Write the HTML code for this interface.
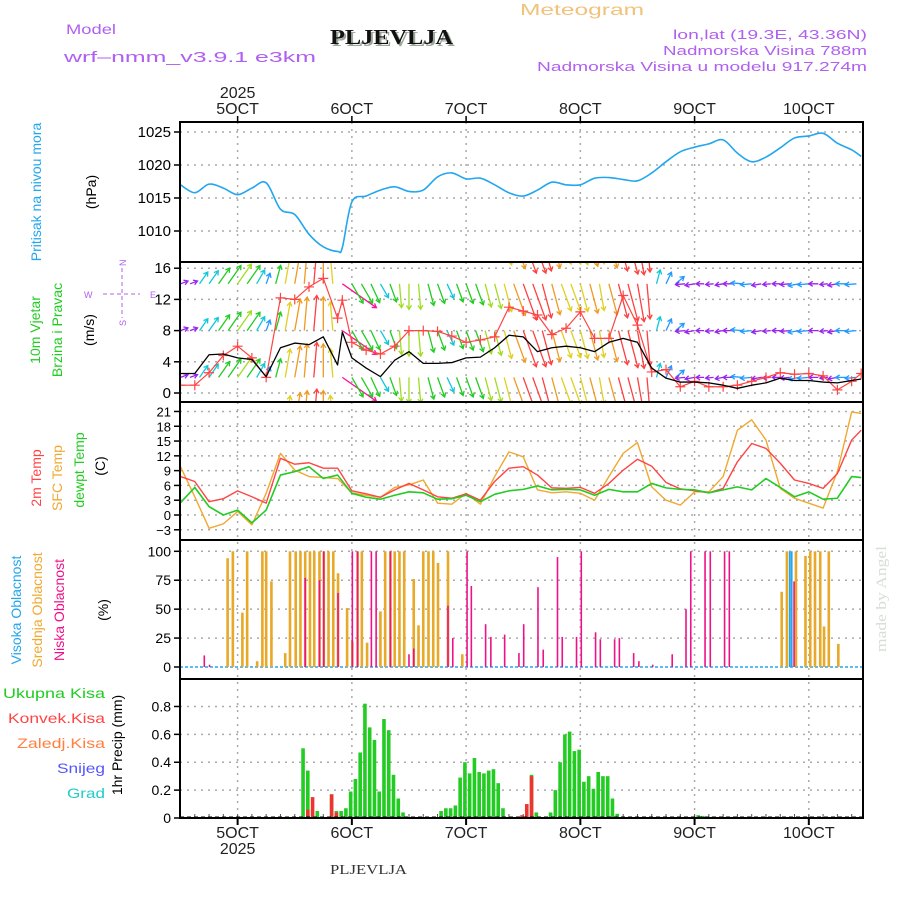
<!DOCTYPE html>
<html><head><meta charset="utf-8"><style>
html,body{margin:0;padding:0;background:#fff;}
svg{display:block;font-family:"Liberation Sans",sans-serif;}
</style></head><body>
<svg id="chart" width="900" height="900" viewBox="0 0 900 900" xmlns="http://www.w3.org/2000/svg">
<defs>
<clipPath id="cpW"><rect x="180" y="263" width="683" height="138"/></clipPath>
</defs>
<g>
<text x="66" y="34" fill="#b060f0" font-size="14" textLength="50" lengthAdjust="spacingAndGlyphs">Model</text>
<text x="64" y="62" fill="#b060f0" font-size="15" textLength="252" lengthAdjust="spacingAndGlyphs">wrf–nmm_v3.9.1  e3km</text>
<text x="332" y="46" fill="#9aa79a" font-family="Liberation Serif,serif" font-weight="bold" font-size="21" textLength="123" lengthAdjust="spacingAndGlyphs">PLJEVLJA</text>
<text x="330" y="44" fill="#111" font-family="Liberation Serif,serif" font-weight="bold" font-size="21" textLength="123" lengthAdjust="spacingAndGlyphs">PLJEVLJA</text>
<text x="520" y="15" fill="#f0c27a" font-size="16" textLength="124" lengthAdjust="spacingAndGlyphs">Meteogram</text>
<text x="867" y="39" text-anchor="end" fill="#b060f0" font-size="13" textLength="194" lengthAdjust="spacingAndGlyphs">lon,lat (19.3E, 43.36N)</text>
<text x="867" y="55" text-anchor="end" fill="#b060f0" font-size="13" textLength="204" lengthAdjust="spacingAndGlyphs">Nadmorska Visina 788m</text>
<text x="867" y="71" text-anchor="end" fill="#b060f0" font-size="13" textLength="330" lengthAdjust="spacingAndGlyphs">Nadmorska Visina u modelu 917.274m</text>
<text x="330" y="874" fill="#333" font-family="Liberation Serif,serif" font-size="14" textLength="77" lengthAdjust="spacingAndGlyphs">PLJEVLJA</text>
<text transform="translate(886,652) rotate(-90)" fill="#d4e0d4" font-family="Liberation Serif,serif" font-size="15" textLength="106" lengthAdjust="spacingAndGlyphs">made by Angel</text>
</g>
<g font-size="14">
<text transform="translate(41,192) rotate(-90)" text-anchor="middle" fill="#22a6ee">Pritisak na nivou mora</text>
<text transform="translate(96,192) rotate(-90)" text-anchor="middle" fill="#000">(hPa)</text>
<text transform="translate(40,330) rotate(-90)" text-anchor="middle" fill="#22cc22">10m Vjetar</text>
<text transform="translate(62,330) rotate(-90)" text-anchor="middle" fill="#22cc22">Brzina i Pravac</text>
<text transform="translate(94,330) rotate(-90)" text-anchor="middle" fill="#000">(m/s)</text>
<g fill="#b060f0" stroke="#b060f0" font-size="9">
<line x1="103" y1="294" x2="140" y2="294" stroke-dasharray="4,3"/>
<line x1="122" y1="268" x2="122" y2="318" stroke-dasharray="4,3"/>
<text x="84" y="298" stroke="none">W</text><text x="150" y="298" stroke="none">E</text>
<text transform="translate(126,266) rotate(-90)" stroke="none">N</text>
<text transform="translate(126,326) rotate(-90)" stroke="none">S</text>
</g>
<text transform="translate(41,478) rotate(-90)" text-anchor="middle" fill="#ff4444">2m Temp</text>
<text transform="translate(62,478) rotate(-90)" text-anchor="middle" fill="#f0a830">SFC Temp</text>
<text transform="translate(84,470) rotate(-90)" text-anchor="middle" fill="#22cc22">dewpt Temp</text>
<text transform="translate(105,466) rotate(-90)" text-anchor="middle" fill="#000">(C)</text>
<text transform="translate(21,610) rotate(-90)" text-anchor="middle" fill="#22a6ee">Visoka Oblacnost</text>
<text transform="translate(42,610) rotate(-90)" text-anchor="middle" fill="#f0a830">Srednja Oblacnost</text>
<text transform="translate(64,610) rotate(-90)" text-anchor="middle" fill="#ee1188">Niska Oblacnost</text>
<text transform="translate(108,610) rotate(-90)" text-anchor="middle" fill="#000">(%)</text>
<text x="105" y="698" text-anchor="end" fill="#22cc22" textLength="102" lengthAdjust="spacingAndGlyphs">Ukupna  Kisa</text>
<text x="105" y="723" text-anchor="end" fill="#ff4444" textLength="97" lengthAdjust="spacingAndGlyphs">Konvek.Kisa</text>
<text x="105" y="748" text-anchor="end" fill="#ff8040" textLength="88" lengthAdjust="spacingAndGlyphs">Zaledj.Kisa</text>
<text x="105" y="773" text-anchor="end" fill="#5555ff" textLength="48" lengthAdjust="spacingAndGlyphs">Snijeg</text>
<text x="105" y="798" text-anchor="end" fill="#22cccc" textLength="38" lengthAdjust="spacingAndGlyphs">Grad</text>
<text transform="translate(122,745) rotate(-90)" text-anchor="middle" fill="#000">1hr Precip (mm)</text>
</g>
<g id="plot"></g>
</svg>
<script>
const pHours = [0,3,6,9,12,15,18,21,24,27,30,33,34,36,39,42,45,48,51,54,57,60,63,66,69,72,75,78,81,84,87,90,93,96,99,102,105,108,111,114,117,120,123,126,129,132,135,138,141,143];
const pressure = [1017.0,1015.8,1017.1,1016.5,1015.5,1016.5,1017.3,1013.3,1012.5,1009.5,1007.6,1006.9,1007.5,1014.4,1015.3,1016.2,1016.7,1016.0,1016.2,1018.2,1018.8,1017.9,1018.0,1017.0,1015.8,1015.3,1016.2,1017.4,1017.0,1017.0,1018.0,1018.1,1017.8,1017.6,1018.8,1020.5,1022.0,1022.7,1023.2,1023.8,1021.8,1020.5,1021.2,1022.6,1024.1,1024.4,1024.8,1023.3,1022.3,1021.3];
const tHours = [0,3,6,9,12,15,18,21,24,27,30,33,36,39,42,45,48,51,54,57,60,63,66,69,72,75,78,81,84,87,90,93,96,99,102,105,108,111,114,117,120,123,126,129,132,135,138,141,143];
const temp2m = [7.8,6.8,2.7,3.3,4.9,3.7,2.4,11.5,10.3,10.6,9.5,9.5,4.9,4.3,3.6,5.1,6.4,5.1,3.7,3.4,4.3,3.0,6.8,9.5,9.8,8.1,5.5,5.4,5.6,4.4,6.4,9.1,11.3,9.9,6.6,5.3,4.9,4.5,5.4,10.8,14.5,13.5,10.5,7.1,6.4,5.4,8.4,15.2,17.2];
const tempSfc = [9.8,3.7,-2.7,-1.8,0.7,-2.0,4.4,12.5,9.1,7.8,7.6,7.4,4.5,4.0,3.6,5.6,6.1,7.1,2.4,2.2,4.4,2.2,7.8,12.8,11.8,5.1,4.5,4.7,4.4,3.0,7.8,12.5,14.7,5.7,3.0,2.0,4.7,4.7,7.8,17.2,19.3,15.2,5.4,3.4,2.4,1.4,8.8,20.9,20.6];
const dewpt = [2.5,5.6,1.7,0.0,1.0,-1.6,1.0,8.1,8.8,9.8,7.4,8.1,4.4,3.6,3.2,4.0,4.7,4.5,3.2,3.3,4.0,2.7,4.2,4.9,5.2,5.9,5.1,5.2,5.1,4.0,5.2,4.7,4.7,6.4,5.5,5.2,5.1,4.5,5.1,5.7,5.1,7.4,5.6,3.7,4.7,3.2,3.4,7.8,7.6];
const wsHours = [0,3,6,9,12,15,18,21,24,27,30,33,34,36,39,42,45,48,51,54,57,60,63,66,69,72,75,78,81,84,87,90,93,96,99,102,105,108,111,114,117,120,123,126,129,132,135,138,141,143];
const windSpeed = [2.5,2.5,4.9,5.0,4.5,4.3,2.1,5.8,6.4,6.2,7.2,3.6,7.8,4.5,3.2,2.1,4.2,5.3,3.8,3.8,3.9,4.5,4.6,5.8,7.4,7.2,5.3,5.8,6.0,5.8,5.3,6.5,7.0,6.5,3.2,1.9,1.4,1.4,1.3,1.0,0.6,1.0,1.3,1.9,1.6,1.6,1.4,1.3,1.6,1.8];
const gust = [1.0,1.0,2.6,4.8,6.0,4.5,2.0,12.2,12.0,13.6,14.7,9.6,11.9,6.5,5.5,5.0,6.0,8.0,8.0,7.9,7.3,6.5,6.8,7.2,11.0,10.5,10.0,7.5,8.3,10.4,7.0,7.0,12.5,8.7,2.7,3.0,0.8,1.5,0.8,0.8,1.0,1.5,2.0,2.6,2.4,2.5,2.2,0.4,1.5,2.5];
const arrowHours = [0,2,4,6,8,10,12,14,16,18,20,22,24,26,28,30,32,34,36,38,40,42,44,46,48,50,52,54,56,58,60,62,64,66,68,70,72,74,76,78,80,82,84,86,88,90,92,94,96,98,100,102,104,106,108,110,112,114,116,118,120,122,124,126,128,130,132,134,136,138,140,142];
const arrowSpeed = [2.5,2.5,4.5,5,6,7,7.5,7,5,3.5,6,9,10,10.5,11,10.5,9,13,7,7,6.5,5,6,7.5,8,8,7,6.5,5,6,6.5,7,7.5,8,9,10.5,12,12,11,10,9,9,9,9.5,8.5,10,11,12,12,11,4.5,4,3.5,3,3,2.5,2.5,2.5,3,3.5,3.5,3,2.5,2.5,3,3.5,3.5,3,2.5,3,3.5,3.5];
const arrowDir = [250,250,215,215,215,215,215,215,210,200,195,190,190,185,185,180,175,305,330,330,335,330,340,355,0,355,345,340,335,340,340,340,345,345,345,340,340,340,345,345,340,340,345,345,350,345,345,345,350,355,195,205,230,85,80,90,85,80,90,95,85,80,85,90,85,80,85,90,85,80,90,85];
const midHours = [9.9,11,13,14,16.1,17.2,18,19.1,22,23,24.2,25.2,26.2,27.2,28.1,29.2,30.1,31.1,32.1,33.1,35,36.1,37.2,38.1,39.2,42,43,44.1,45,46,47,49,50,51,52.1,53.1,54.1,56.2,59.2,126.3,127.4,129.3,131.3,132.3,133.3,134.4,135.2,136.2,138.2];
const midCloud = [94,100,47,100,5,100,100,74,12,100,100,100,100,100,100,100,100,100,100,81,51,22,100,100,21,48,100,100,100,100,100,76,36,100,100,100,90,100,11,65,100,100,96,100,100,100,35,100,20];
const lowHours = [5,6.1,26.2,29.2,30.1,33.1,36.1,37.2,40.1,41.1,44.1,48,49,56.2,57.2,60.2,61.1,64.1,65.2,68.1,71.1,72.1,75.1,76.2,79.2,80.2,83.2,84.2,87.2,88.2,91.2,92.2,95.2,96.3,99.2,103.3,106.2,107.2,110.2,111.3,114.3,115.3,128.9];
const lowCloud = [10,2,77,75,100,64,100,100,100,100,100,11,16,53,25,100,70,37,26,28,12,37,69,15,95,26,26,100,30,24,24,25,12,5,2,11,50,100,100,100,100,100,74];
const highHours = [128.0,128.4];
const highCloud = [100,100];
const rainHours = [26,27,29,32,33,34,35,36,37,38,39,40,41,42,43,44,45,46,47,55,56,57,58,59,60,61,62,63,64,65,66,67,68,74,75,78,79,80,81,82,83,84,85,86,87,88,89,90,91,92,108,109,110,111,112,113];
const rainTotal = [0.50,0.34,0.05,0.17,0.05,0.05,0.07,0.19,0.28,0.47,0.82,0.65,0.56,0.19,0.71,0.63,0.31,0.14,0.04,0.05,0.07,0.07,0.09,0.29,0.40,0.32,0.43,0.33,0.32,0.34,0.35,0.25,0.07,0.31,0.04,0.04,0.20,0.40,0.60,0.62,0.48,0.49,0.26,0.30,0.21,0.33,0.30,0.30,0.14,0.03,0.005,0.02,0.015,0.01,0.008,0.005];
const convHours = [27,28,32,33,49,72,73,74];
const convRain = [0.06,0.15,0.17,0.04,0.01,0.02,0.10,0.30];
const dayHours = [12,36,60,84,108,132];
const dayLabels = ["5OCT","6OCT","7OCT","8OCT","9OCT","10OCT"];
const pTicks = [1010,1015,1020,1025];
const wTicks = [0,4,8,12,16];
const tTicks = [-3,0,3,6,9,12,15,18,21];
const cTicks = [0,25,50,75,100];
const rTicks = [0,0.2,0.4,0.6,0.8];
const arrowRows = [20,14,8,2,-4];

const L=180, R=863;
const X = h => 180.5 + 4.76*h;
const yP = v => 231 - 6.6*(v-1010);
const yW = v => 393 - 7.8*v;
const yT = v => 515 - 4.93*v;
const yC = v => 667 - 1.157*v;
const yR = v => 818 - 139.4*v;
const panels = [[122,262,'pressure'],[262,402,'wind'],[402,540,'temperature'],[540,679,'cloud'],[679,818,'precip']];

const NS='http://www.w3.org/2000/svg';
const plot=document.getElementById('plot');
function mk(tag, attrs, parent){const e=document.createElementNS(NS,tag);for(const k in attrs)e.setAttribute(k,attrs[k]);(parent||plot).appendChild(e);return e;}
function group(name){const g=mk('g',{});


return g;}

const grid=group('grid');
function hgrid(ticks, yf, name){ticks.forEach(t=>{const y=yf(t);
const l=mk('line',{x1:L,x2:R,y1:y,y2:y,stroke:'#aaa','stroke-width':1.5,'stroke-dasharray':'2,5'},grid);


});}
hgrid(pTicks,yP,'pressure');hgrid(wTicks,yW,'wind');hgrid(tTicks,yT,'temp');hgrid(cTicks.slice(1),yC,'cloud');hgrid(rTicks.slice(1),yR,'precip');
dayHours.forEach(h=>{const l=mk('line',{x1:X(h),x2:X(h),y1:122,y2:818,stroke:'#aaa','stroke-width':1.5,'stroke-dasharray':'2,5'},grid);


});

const ticks=group('y-tick-labels');
function ylabels(ticks_, yf, fmt, fs, name){ticks_.forEach(t=>{const y=yf(t);
mk('line',{x1:L-6,x2:L,y1:y,y2:y,stroke:'#000','stroke-width':1.5},ticks);
const tx=mk('text',{x:L-9,y:y+5,'text-anchor':'end','font-size':fs,fill:'#000'},ticks);tx.textContent=fmt(t);


});}
ylabels(pTicks,yP,t=>t,15,'pressure');ylabels(wTicks,yW,t=>t,15,'wind');
ylabels(tTicks,yT,t=>t<0?'−'+(-t):t,13,'temp');ylabels(cTicks,yC,t=>t,14,'cloud');
ylabels(rTicks,yR,t=>t===0?'0':t.toFixed(1),14,'precip');

const xl=group('x-axis-labels');
dayHours.forEach((h,i)=>{const x=X(h);
mk('line',{x1:x,x2:x,y1:116,y2:122,stroke:'#000','stroke-width':1.5},xl);
mk('line',{x1:x,x2:x,y1:818,y2:825,stroke:'#000','stroke-width':2},xl);
const t1=mk('text',{x:x,y:114,'text-anchor':'middle','font-size':16,fill:'#222'},xl);t1.textContent=dayLabels[i];


const t2=mk('text',{x:x,y:838,'text-anchor':'middle','font-size':16,fill:'#222'},xl);t2.textContent=dayLabels[i];


});
for(let h=3;h<144;h+=3){mk('line',{x1:X(h),x2:X(h),y1:814,y2:818,stroke:'#555','stroke-width':1},xl);}
const y1=mk('text',{x:X(12),y:98,'text-anchor':'middle','font-size':16,fill:'#222'},xl);y1.textContent='2025';


const y2=mk('text',{x:X(12),y:854,'text-anchor':'middle','font-size':16,fill:'#222'},xl);y2.textContent='2025';



function line(hs, vs, yf, color, w, parent){return mk('polyline',{points:hs.map((h,i)=>X(h)+','+yf(vs[i])).join(' '),fill:'none',stroke:color,'stroke-width':w,'stroke-linejoin':'round'},parent);}
function smooth(hs, vs, yf, color, w, parent){
  const pts=hs.map((h,i)=>[X(h),yf(vs[i])]);
  let d='M'+pts[0][0]+','+pts[0][1];
  for(let i=0;i<pts.length-1;i++){const p0=pts[Math.max(0,i-1)],p1=pts[i],p2=pts[i+1],p3=pts[Math.min(pts.length-1,i+2)];
    const c1x=p1[0]+(p2[0]-p0[0])/6,c1y=p1[1]+(p2[1]-p0[1])/6,c2x=p2[0]-(p3[0]-p1[0])/6,c2y=p2[1]-(p3[1]-p1[1])/6;
    d+=`C${c1x},${c1y} ${c2x},${c2y} ${p2[0]},${p2[1]}`;}
  return mk('path',{d:d,fill:'none',stroke:color,'stroke-width':w},parent);}

const pl=smooth(pHours,pressure,yP,'#22a6ee',1.6);



const wg=mk('g',{'clip-path':'url(#cpW)'});


function wcol(s){if(s>=13)return '#ff1199';if(s>=11)return '#ff4040';if(s>=9.5)return '#f09a20';if(s>=8.5)return '#e0d020';if(s>=7.3)return '#a0dd20';if(s>=5.5)return '#22cc22';if(s>=4.2)return '#10c8d8';if(s>=3.2)return '#2299ff';return '#9922ee';}
arrowRows.forEach(row=>{const by=yW(row);
arrowHours.forEach((h,i)=>{const s=arrowSpeed[i], d=(arrowDir[i]+180)*Math.PI/180, len=s*3.2;
const x0=X(h), dx=Math.sin(d)*len, dy=-Math.cos(d)*len, x1=x0+dx, y1=by+dy;
const ux=dx/len, uy=dy/len, c=wcol(s);
const a=mk('path',{d:`M${x0},${by}L${x1},${y1}M${x1-4*ux-2.5*uy},${y1-4*uy+2.5*ux}L${x1},${y1}L${x1-4*ux+2.5*uy},${y1-4*uy-2.5*ux}`,stroke:c,'stroke-width':1.3,fill:'none'},wg);


});});
const gl=line(wsHours,gust,yW,'#ff4444',1.2,wg);


wsHours.forEach((h,i)=>{const x=X(h),y=yW(gust[i]);
const m=mk('path',{d:`M${x-5},${y}H${x+5}M${x},${y-5}V${y+5}`,stroke:'#ff4444','stroke-width':1.2},wg);


});
const sl=line(wsHours,windSpeed,yW,'#000',1.3,wg);



const t1l=line(tHours,tempSfc,yT,'#f0a830',1.4);


const t2l=line(tHours,temp2m,yT,'#ff4444',1.4);


const t3l=line(tHours,dewpt,yT,'#22cc22',1.6);



const base=mk('line',{x1:L,x2:R,y1:yC(0),y2:yC(0),stroke:'#22a6ee','stroke-width':1.5,'stroke-dasharray':'3,2'});


function bars(hs, vs, yf, y0, color, w, name, off){hs.forEach((h,i)=>{const x=X(h)+(off||0), y=yf(vs[i]);
const b=mk('rect',{x:x-w/2,y:y,width:w,height:Math.max(0.5,y0-y),fill:color});


});}
bars(midHours,midCloud,yC,yC(0),'#e8a828',2.6,'mid-cloud-bar');
bars(lowHours,lowCloud,yC,yC(0),'#ee1188',1.6,'low-cloud-bar');
bars(highHours,highCloud,yC,yC(0),'#22a6ee',1.8,'high-cloud-bar');

bars(rainHours,rainTotal,yR,818,'#22cc22',3.6,'total-rain-bar',-1.2);
bars(convHours,convRain,yR,818,'#ee3333',3.6,'convective-rain-bar',-1.2);
const zl=mk('line',{x1:L,x2:R,y1:817,y2:817,stroke:'#000','stroke-width':1,'stroke-dasharray':'4,3'});



panels.forEach(p=>{const r=mk('rect',{x:L,y:p[0],width:R-L,height:p[1]-p[0],fill:'none',stroke:'#000','stroke-width':2});


});
</script>
</body></html>
